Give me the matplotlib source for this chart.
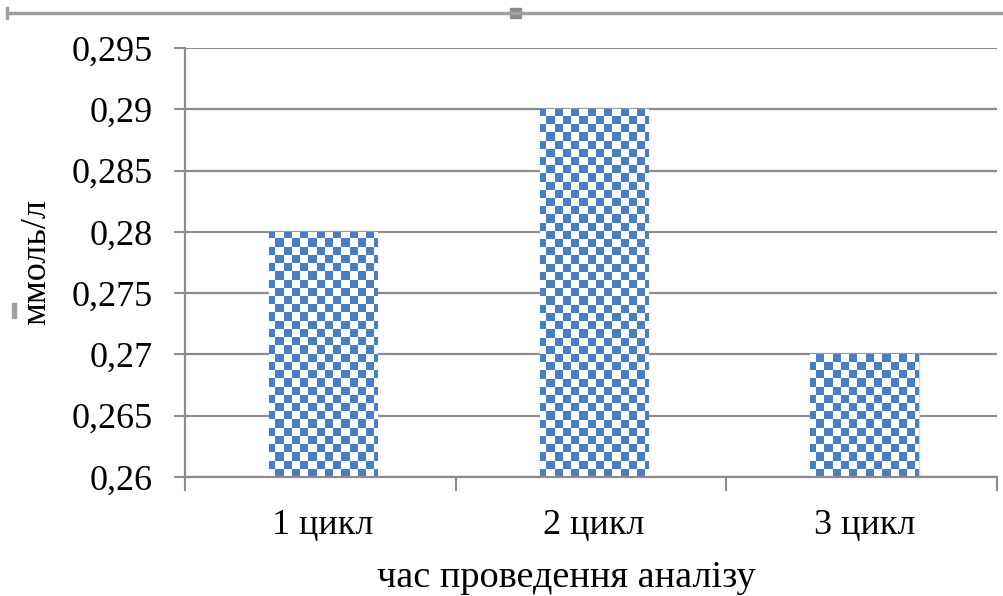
import numpy as np
import matplotlib
matplotlib.use("Agg")
import matplotlib.pyplot as plt
from matplotlib.patches import Rectangle
from matplotlib.lines import Line2D
from matplotlib.colors import ListedColormap

categories = ["1 цикл", "2 цикл", "3 цикл"]
values = [0.28, 0.29, 0.27]
yticks = [0.26, 0.265, 0.27, 0.275, 0.28, 0.285, 0.29, 0.295]
ytick_labels = ["0,26", "0,265", "0,27", "0,275", "0,28", "0,285", "0,29", "0,295"]
xlabel = "час проведення аналізу"
ylabel = "ммоль/л"

plt.rcParams['font.family'] = ['Liberation Serif', 'DejaVu Serif']

W, H = 1004, 596
fig = plt.figure(figsize=(W / 100, H / 100), dpi=100)
L, R, B, T = 185, 997, 477, 48
ax = fig.add_axes([L / W, 1 - B / H, (R - L) / W, (B - T) / H])

ymin, ymax = 0.26, 0.295
ax.set_ylim(ymin, ymax)
ax.set_xlim(-0.5, 2.5)

grid_c = '#8c8c8c'
ax.set_yticks(yticks)
ax.set_yticklabels(ytick_labels, fontsize=26)
ax.yaxis.grid(True, color=grid_c, lw=1.6)
ax.set_axisbelow(True)
ax.tick_params(axis='y', length=8, width=1.5, color=grid_c, pad=15)

# category boundaries as x ticks
x = np.arange(len(categories))
ax.set_xticks(np.arange(-0.5, len(categories), 1.0))
ax.set_xticklabels([])
ax.tick_params(axis='x', length=10, width=1.5, color=grid_c)
for xi, lab in zip(x, categories):
    ax.text(xi + 0.01, -0.075, lab, transform=ax.get_xaxis_transform(), ha='center', va='top', fontsize=26)

for s in ['top', 'right']:
    ax.spines[s].set_visible(False)
for s in ['left', 'bottom']:
    ax.spines[s].set_color(grid_c)
    ax.spines[s].set_linewidth(1.6)

bars = ax.bar(x + 0.01, [v - ymin for v in values], bottom=ymin, width=0.4,
              facecolor='white', edgecolor='#c8d6ea', lw=1, zorder=2)

# checkerboard pattern clipped to bars
cell = 8.2
nx = int(np.ceil((R - L) / cell))
ny = int(np.ceil((B - T) / cell))
chk = (np.add.outer(np.arange(ny), np.arange(nx)) % 2).astype(float)
cmap = ListedColormap(['white', '#4a7ec2'])
x_ext = -0.5 + nx * cell / (R - L) * 3.0
y_ext = ymin + ny * cell / (B - T) * (ymax - ymin)
for b in bars:
    im = ax.imshow(chk, cmap=cmap, extent=[-0.5, x_ext, ymin, y_ext], origin='lower',
                   aspect='auto', interpolation='nearest', zorder=2.5)
    im.set_clip_path(b)
ax.set_xlim(-0.5, 2.5)
ax.set_ylim(ymin, ymax)

ax.set_xlabel(xlabel, fontsize=27.5, va='center')
ax.xaxis.set_label_coords((566 - L) / (R - L), -(578 - B) / (B - T))
ax.set_ylabel(ylabel, fontsize=26, va='center')
ax.yaxis.set_label_coords((37 - L) / (R - L), (B - 262) / (B - T))

# outer frame decorations
fig.add_artist(Line2D([7 / W, 1.0], [1 - 13 / H, 1 - 13 / H], transform=fig.transFigure, color='#a0a0a0', lw=2.5))
fig.add_artist(Rectangle((510 / W, 1 - 18 / H), 11 / W, 10 / H, transform=fig.transFigure, color='#8c8c8c'))
fig.add_artist(Rectangle((6 / W, 1 - 19 / H), 2 / W, 12 / H, transform=fig.transFigure, color='#a0a0a0'))
fig.add_artist(Rectangle((12 / W, 1 - 318 / H), 4 / W, 15 / H, transform=fig.transFigure, color='#a0a0a0'))

fig.savefig('out.png', dpi=100)
